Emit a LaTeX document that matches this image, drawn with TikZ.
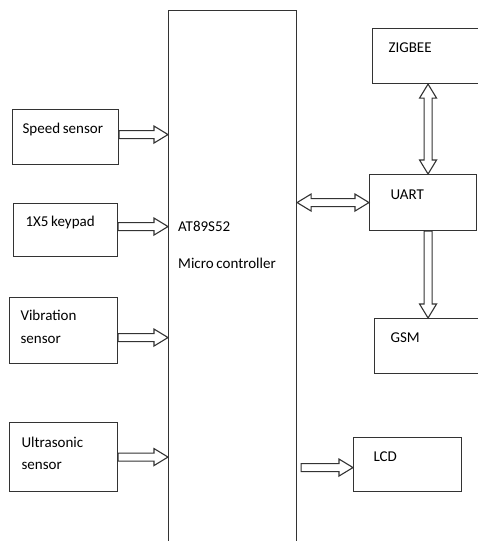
\documentclass[tikz,border=0pt]{standalone}
\usepackage{fontspec}
\setmainfont{Carlito}[WordSpace=0.8]
\definecolor{edgegray}{HTML}{333333}
\usetikzlibrary{calc,positioning}

\begin{document}
\begin{tikzpicture}[x=1pt, y=-1pt,
  box/.style={rectangle, draw=edgegray, line width=1.1pt, anchor=north west,
    align=flush left, inner ysep=0pt, text height=11pt,
    font=\fontsize{15}{22.5}\selectfont},
  one/.style={text depth=18pt},
  two/.style={text depth=31pt},
  hollow/.style={draw=edgegray, line width=1.1pt, fill=white, line join=miter},
  sarrow/.style={hollow, to path={
    let \p1=($(\tikztotarget)-(\tikztostart)$),
        \n1={atan2(\y1,\x1)}, \n2={veclen(\x1,\y1)-14pt} in
    ($(\tikztostart)+(\n1+90:4pt)$)
    -- ($(\tikztostart)+(\n1:\n2)+(\n1+90:4pt)$)
    -- ($(\tikztostart)+(\n1:\n2)+(\n1+90:8.5pt)$)
    -- (\tikztotarget)
    -- ($(\tikztostart)+(\n1:\n2)+(\n1-90:8.5pt)$)
    -- ($(\tikztostart)+(\n1:\n2)+(\n1-90:4pt)$)
    -- ($(\tikztostart)+(\n1-90:4pt)$) -- cycle}},
  darrow/.style={hollow, to path={
    let \p1=($(\tikztotarget)-(\tikztostart)$),
        \n1={atan2(\y1,\x1)}, \n2={veclen(\x1,\y1)-14pt} in
    (\tikztostart)
    -- ($(\tikztostart)+(\n1:14pt)+(\n1+90:8.5pt)$)
    -- ($(\tikztostart)+(\n1:14pt)+(\n1+90:4pt)$)
    -- ($(\tikztostart)+(\n1:\n2)+(\n1+90:4pt)$)
    -- ($(\tikztostart)+(\n1:\n2)+(\n1+90:8.5pt)$)
    -- (\tikztotarget)
    -- ($(\tikztostart)+(\n1:\n2)+(\n1-90:8.5pt)$)
    -- ($(\tikztostart)+(\n1:\n2)+(\n1-90:4pt)$)
    -- ($(\tikztostart)+(\n1:14pt)+(\n1-90:4pt)$)
    -- ($(\tikztostart)+(\n1:14pt)+(\n1-90:8.5pt)$) -- cycle}}
]
  \useasboundingbox (0,0) rectangle (477,541);

  \node[box, minimum width=128pt, minimum height=535pt] (mcu) at (168,10) {};
  \node[anchor=north west, inner sep=0pt, align=left,
    font=\fontsize{15}{22.5}\selectfont] (mcutxt)
    at ([xshift=10pt, yshift=-211pt]mcu.north west) {AT89S52\\[15pt]Micro controller};

  \node[box, one, minimum height=55pt, text width=86pt, inner xsep=10pt] (spd) at (12,109) {Speed sensor};
  \node[box, one, minimum height=53pt, text width=80pt, inner xsep=12pt] (key) at (13,203) {1X5 keypad};
  \node[box, two, minimum height=66pt, text width=86pt, inner xsep=11pt] (vib) at (9,297) {Vibration\\sensor};
  \node[box, two, minimum height=69pt, text width=84pt, inner xsep=12pt] (ult) at (9,422) {Ultrasonic\\sensor};

  \node[box, one, minimum height=55pt, text width=78pt, inner xsep=16pt] (zig) at (372,28) {ZIGBEE};
  \node[box, one, minimum height=56pt, text width=65pt, inner xsep=21pt] (uart) at (369,174) {UART};
  \node[box, one, minimum height=55pt, text width=74pt, inner xsep=16pt] (gsm) at (374,318) {GSM};
  \node[box, one, minimum height=54pt, text width=68pt, inner xsep=20pt] (lcd) at (353,437) {LCD};

  \coordinate (spdout) at ([yshift=2.5pt]spd.east);
  \coordinate (keyout) at ([yshift=3.5pt]key.east);
  \coordinate (vibout) at ([yshift=-7pt]vib.east);
  \coordinate (ultout) at (ult.east);
  \coordinate (lcdin) at ([yshift=-3pt]lcd.west);
  \coordinate (ux) at ([xshift=5pt]uart.center);

  \draw[sarrow] (spdout) to (spdout -| mcu.west);
  \draw[sarrow] (keyout) to (keyout -| mcu.west);
  \draw[sarrow] (vibout) to (vibout -| mcu.west);
  \draw[sarrow] (ultout) to (ultout -| mcu.west);
  \draw[sarrow] ($(lcdin -| mcu.east)+(4pt,0pt)$) to (lcdin);
  \draw[darrow] (uart.west -| mcu.east) to (uart.west);
  \draw[darrow] (ux |- uart.north) to (ux |- zig.south);
  \draw[sarrow] (ux |- uart.south) to (ux |- gsm.north);
\end{tikzpicture}
\end{document}
